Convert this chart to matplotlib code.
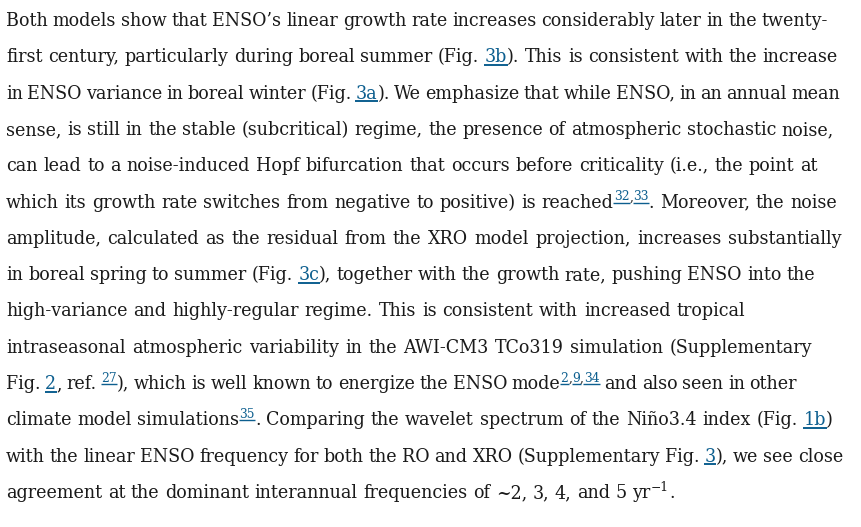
import re
import numpy as np
import matplotlib
matplotlib.use("Agg")
import matplotlib.pyplot as plt

TEXT_COLOR = "#1a1a1a"
LINK_COLOR = "#0d5f8f"
FAMILY = ["DejaVu Serif"]

# {l:..} = link, {s:..} = superscript link, {p:..} = plain superscript
lines = [
    "Both models show that ENSO’s linear growth rate increases considerably later in the twenty-",
    "first century, particularly during boreal summer (Fig. {l:3b}). This is consistent with the increase",
    "in ENSO variance in boreal winter (Fig. {l:3a}). We emphasize that while ENSO, in an annual mean",
    "sense, is still in the stable (subcritical) regime, the presence of atmospheric stochastic noise,",
    "can lead to a noise-induced Hopf bifurcation that occurs before criticality (i.e., the point at",
    "which its growth rate switches from negative to positive) is reached{s:32}{p:,}{s:33}. Moreover, the noise",
    "amplitude, calculated as the residual from the XRO model projection, increases substantially",
    "in boreal spring to summer (Fig. {l:3c}), together with the growth rate, pushing ENSO into the",
    "high-variance and highly-regular regime. This is consistent with increased tropical",
    "intraseasonal atmospheric variability in the AWI-CM3 TCo319 simulation (Supplementary",
    "Fig. {l:2}, ref. {s:27}), which is well known to energize the ENSO mode{s:2}{p:,}{s:9}{p:,}{s:34} and also seen in other",
    "climate model simulations{s:35}. Comparing the wavelet spectrum of the Niño3.4 index (Fig. {l:1b})",
    "with the linear ENSO frequency for both the RO and XRO (Supplementary Fig. {l:3}), we see close",
    "agreement at the dominant interannual frequencies of ~2, 3, 4, and 5 yr{p:−1}.",
]
# right edge of each line in pixels (None = ragged last line)
line_ends = [828, 838, 840, 834, 818, 837, 841, 815, 745, 812, 797, 833, 843, None]

left = 6
first_baseline = 26
line_gap = 36.3
sup_scale = 0.7
sup_raise = 7

fig = plt.figure(figsize=(8.62, 5.27), dpi=100)
ax = fig.add_axes([0, 0, 1, 1])
ax.set_xlim(0, 862)
ax.set_ylim(527, 0)
ax.axis("off")
renderer = fig.canvas.get_renderer()


def parse(word):
    parts = []
    pos = 0
    for m in re.finditer(r"\{(\w):([^}]*)\}", word):
        if m.start() > pos:
            parts.append((word[pos:m.start()], "n"))
        parts.append((m.group(2), m.group(1)))
        pos = m.end()
    if pos < len(word):
        parts.append((word[pos:], "n"))
    return parts


_cache = {}


def ink(s, fs):
    key = (s, fs)
    if key not in _cache:
        t = ax.text(0, 0, s, fontsize=fs, family=FAMILY)
        _cache[key] = t.get_window_extent(renderer).width
        t.remove()
    return _cache[key]


def metrics(s, fs):
    # advance width, left bearing (relative to "n") and ink width of a piece
    adv_n = ink("nn", fs) - ink("n", fs)
    adv = ink("n" + s + "n", fs) - ink("nn", fs)
    lsb = ink("n" + s, fs) - adv_n - ink(s, fs)
    return adv, lsb, ink(s, fs)


def seg_size(kind, fs):
    return fs * sup_scale if kind in ("s", "p") else fs


def word_metrics(words, fs):
    return [[metrics(s, seg_size(k, fs)) for s, k in word] for word in words]


parsed = [[parse(w) for w in line.split(" ")] for line in lines]

# pick a font size so the natural line widths fit the column
base = 13.0
sp = ink("n n", base) - ink("nn", base)
ratios = []
for words, end in zip(parsed, line_ends):
    if end is None:
        continue
    nat = sum(m[0] for wm in word_metrics(words, base) for m in wm)
    nat += sp * (len(words) - 1)
    ratios.append((end - left) / nat)
size = base * float(np.median(ratios))
space = ink("n n", size) - ink("nn", size)

for i, words in enumerate(parsed):
    y = first_baseline + i * line_gap
    wm = word_metrics(words, size)
    total = sum(m[0] for w in wm for m in w)
    if line_ends[i] is None:
        gap = space
    else:
        gap = (line_ends[i] - left - total) / (len(words) - 1)
    pen = left
    for word, mets in zip(words, wm):
        for (s, kind), (adv, lsb, w) in zip(word, mets):
            sup = kind in ("s", "p")
            fs = seg_size(kind, size)
            yy = y - sup_raise if sup else y
            color = LINK_COLOR if kind in ("l", "s") else TEXT_COLOR
            x = pen + lsb
            ax.text(x, yy, s, fontsize=fs, family=FAMILY, color=color,
                    va="baseline", ha="left")
            if kind in ("l", "s"):
                uy = yy + (2.0 if sup else 2.6)
                ax.plot([x - 0.5, x + w + 0.5], [uy, uy], color=LINK_COLOR,
                        lw=1.0 if sup else 1.4, solid_capstyle="butt")
            pen += adv
        pen += gap

fig.savefig("out.png", dpi=100, facecolor="white")
